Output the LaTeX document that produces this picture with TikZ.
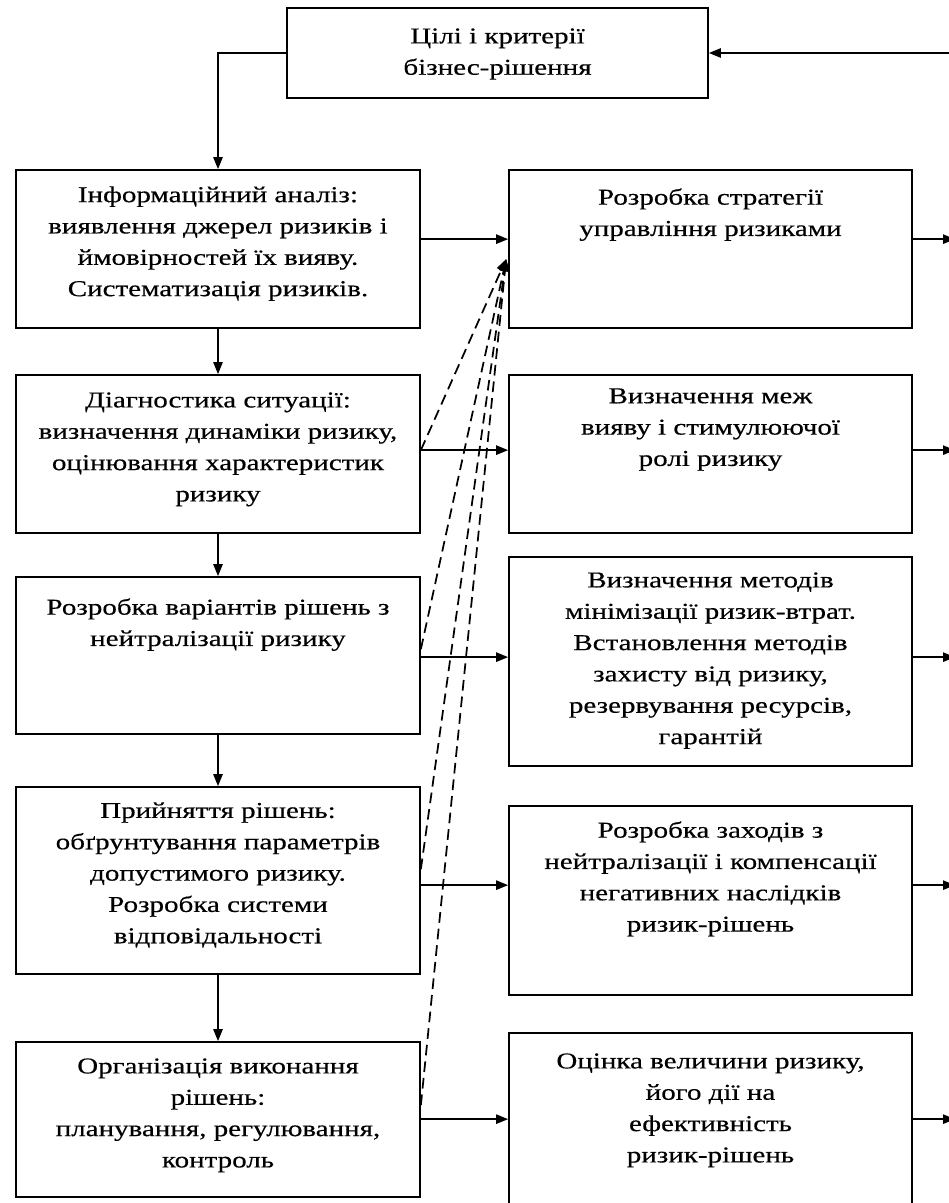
\documentclass[tikz,border=0pt]{standalone}
\usepackage{fontspec}
\setmainfont{Liberation Serif}[FakeStretch=1.28,FakeBold=0.4]
\usetikzlibrary{positioning}
\usetikzlibrary{calc}
\usetikzlibrary{arrows.meta}

\begin{document}
\begin{tikzpicture}[x=0.75pt,y=-0.75pt,
  box/.style={draw, line width=1.3pt, inner sep=0pt},
  lbox/.style={box, minimum width=303pt},
  rbox/.style={box, minimum width=302.25pt},
  txt/.style={anchor=north, align=center, inner sep=0pt, font=\fontsize{17}{23.5}\selectfont},
  arr/.style={line width=1.2pt, -{Triangle[length=9pt,width=7pt]}},
  dsh/.style={arr, line width=1.3pt, dash pattern=on 8pt off 4.5pt}]
  \useasboundingbox (0,0) rectangle (949,1203);
  \clip (0,0) rectangle (949,1203);

  % boxes
  \node[box, minimum width=315.75pt, minimum height=67.5pt] (goal) at (497.5,53) {};
  \node[lbox, minimum height=118.5pt]  (l1) at (218,249) {};
  \node[lbox, minimum height=118.5pt]  (l2) at (218,454) {};
  \node[lbox, minimum height=117.75pt] (l3) at (218,655.5) {};
  \node[lbox, minimum height=140.25pt] (l4) at (218,880.5) {};
  \node[lbox, minimum height=116.25pt] (l5) at (218,1119.5) {};
  \node[rbox, minimum height=118.5pt]  (r1) at (710.5,249) {};
  \node[rbox, minimum height=118.5pt]  (r2) at (710.5,454) {};
  \node[rbox, minimum height=156.75pt] (r3) at (710.5,661.5) {};
  \node[rbox, minimum height=141.75pt] (r4) at (710.5,900.5) {};
  \node[rbox, minimum height=144pt]    (r5) at (710.5,1129) {};

  % texts
  \node[txt] (goalt) at ($(goal.north)+(0,21)$) {Цілі і критерії\\бізнес-рішення};
  \node[txt] (l1t) at ($(l1.north)+(0,17)$) {Інформаційний аналіз:\\виявлення джерел ризиків і\\ймовірностей їх вияву.\\Систематизація ризиків.};
  \node[txt] (l2t) at ($(l2.north)+(0,18)$) {Діагностика ситуації:\\визначення динаміки ризику,\\оцінювання характеристик\\ризику};
  \node[txt] (l3t) at ($(l3.north)+(0,22)$) {Розробка варіантів рішень з\\нейтралізації ризику};
  \node[txt] (l4t) at ($(l4.north)+(0,16)$) {Прийняття рішень:\\обґрунтування параметрів\\допустимого ризику.\\Розробка системи\\відповідальності};
  \node[txt] (l5t) at ($(l5.north)+(0,17)$) {Організація виконання\\рішень:\\планування, регулювання,\\контроль};
  \node[txt] (r1t) at ($(r1.north)+(0,19)$) {Розробка стратегії\\управління ризиками};
  \node[txt] (r2t) at ($(r2.north)+(0,14)$) {Визначення меж\\вияву і стимулюючої\\ролі ризику};
  \node[txt] (r3t) at ($(r3.north)+(0,16)$) {Визначення методів\\мінімізації ризик-втрат.\\Встановлення методів\\захисту від ризику,\\резервування ресурсів,\\гарантій};
  \node[txt] (r4t) at ($(r4.north)+(0,16)$) {Розробка заходів з\\нейтралізації і компенсації\\негативних наслідків\\ризик-рішень};
  \node[txt] (r5t) at ($(r5.north)+(0,21)$) {Оцінка величини ризику,\\його дії на\\ефективність\\ризик-рішень};

  % helper points
  \coordinate (edge) at (955,0);
  \coordinate (hub) at ($(r1.north west)+(-2,90)$);
  \coordinate (a1) at ($(l1.north east)+(0,70)$);
  \coordinate (a2) at ($(l2.north east)+(0,76)$);
  \coordinate (a3) at ($(l3.north east)+(0,81)$);
  \coordinate (a4) at ($(l4.north east)+(0,99)$);
  \coordinate (a5) at ($(l5.north east)+(0,78)$);

  % feedback and top
  \draw[arr] (goal.east -| edge) -- (goal.east);
  \draw[arr] (goal.west) -| (l1.north);

  % left column
  \draw[arr] (l1) -- (l2);
  \draw[arr] (l2) -- (l3);
  \draw[arr] (l3) -- (l4);
  \draw[arr] (l4) -- (l5);

  % across and out
  \foreach \i in {1,...,5} {
    \draw[arr] (a\i) -- (a\i -| r\i.west);
    \draw[arr] (a\i -| r\i.east) -- (a\i -| edge);
  }

  % dashed links to the strategy
  \draw[dsh] (a2) -- (hub);
  \draw[dsh] ($(a3)+(0,-8)$) -- (hub);
  \draw[dsh] ($(a4)+(0,-16)$) -- (hub);
  \draw[dsh] ($(a5)+(0,-14)$) -- (hub);
\end{tikzpicture}
\end{document}
